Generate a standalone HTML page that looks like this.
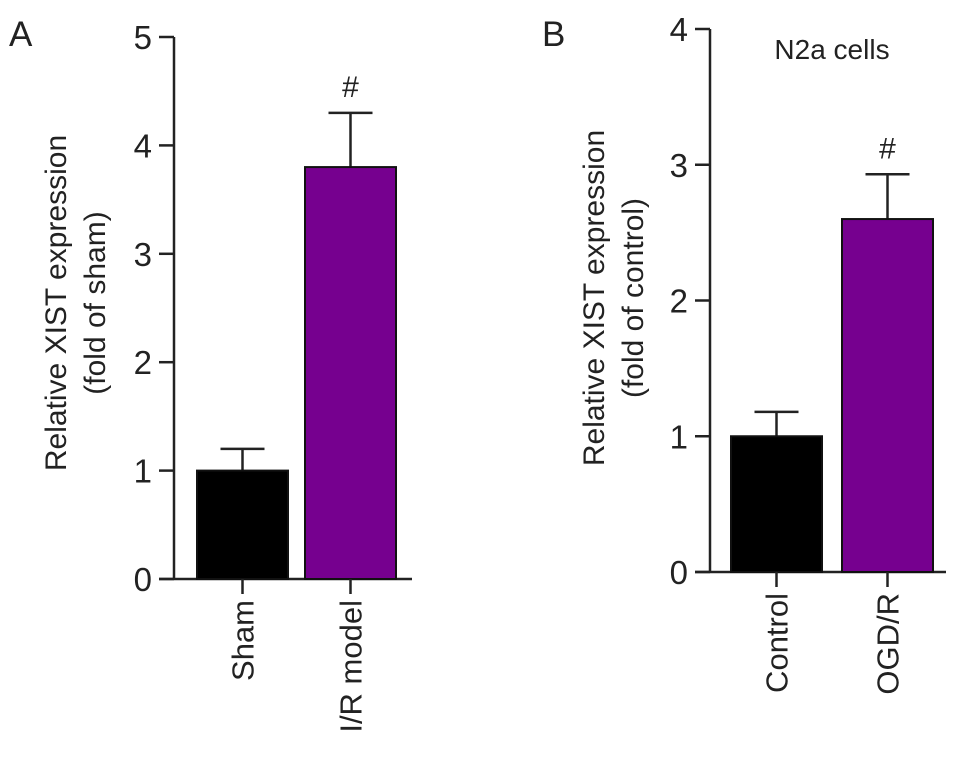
<!DOCTYPE html>
<html><head><meta charset="utf-8"><style>
html,body{margin:0;padding:0;background:#fff}
svg{display:block;font-family:"Liberation Sans",Arial,sans-serif}
</style></head><body>
<svg id="chart" width="969" height="762" viewBox="0 0 969 762"></svg>
<script>
const categoriesA = ["Sham", "I/R model"];
const valuesA = [1.0, 3.8];
const errorsA = [0.2, 0.5];
const ticksA = [0, 1, 2, 3, 4, 5];
const categoriesB = ["Control", "OGD/R"];
const valuesB = [1.0, 2.6];
const errorsB = [0.18, 0.33];
const ticksB = [0, 1, 2, 3, 4];
const colors = ["#000000", "#76008f"];

const svg = document.getElementById('chart');
const NS = 'http://www.w3.org/2000/svg';
function mk(tag, attrs, parent, text) {
  const e = document.createElementNS(NS, tag);
  for (const k in attrs) e.setAttribute(k, attrs[k]);
  if (text !== undefined) e.textContent = text;
  (parent || svg).appendChild(e);
  return e;
}

function panel(o) {
  const g = mk('g', {});
  
  
  const y = v => o.y0 - (v / o.max) * (o.y0 - o.yTop);
  const ax = mk('line', {x1: o.ax, y1: o.yTop, x2: o.ax, y2: o.y0, stroke: '#222', 'stroke-width': 2.5}, g);
  
  
  o.ticks.forEach(t => {
    mk('line', {x1: o.ax - 15, y1: y(t), x2: o.ax, y2: y(t), stroke: '#222', 'stroke-width': 2.5}, g);
    const tl = mk('text', {x: o.ax - 22, y: y(t) + 12, 'font-size': 33, 'text-anchor': 'end', fill: '#222'}, g, t);
    
    
  });
  const xa = mk('line', {x1: o.ax - 15, y1: o.y0, x2: o.xEnd, y2: o.y0, stroke: '#222', 'stroke-width': 2.5}, g);
  
  
  o.cats.forEach((c, i) => {
    const x0 = o.barX[i], cx = x0 + o.bw / 2;
    const top = y(o.vals[i]), et = y(o.vals[i] + o.errs[i]);
    mk('line', {x1: cx, y1: et, x2: cx, y2: top, stroke: '#222', 'stroke-width': 2.5}, g);
    mk('line', {x1: cx - 22, y1: et, x2: cx + 22, y2: et, stroke: '#222', 'stroke-width': 2.5}, g);
    const r = mk('rect', {x: x0, y: top, width: o.bw, height: o.y0 - top, fill: colors[i], stroke: '#111', 'stroke-width': 2}, g);
    
    
    mk('line', {x1: cx, y1: o.y0, x2: cx, y2: o.y0 + 15, stroke: '#222', 'stroke-width': 2.5}, g);
    const xl = mk('text', {x: 0, y: 0, 'font-size': 31, 'text-anchor': 'end', fill: '#222', transform: `translate(${cx + 11},${o.y0 + 21}) rotate(-90)`}, g, c);
    
    
    if (i === 1) {
      const h = mk('text', {x: cx, y: et - 16, 'font-size': 30, 'text-anchor': 'middle', fill: '#222'}, g, '#');
      
      
    }
  });
  const t1 = mk('text', {x: 0, y: 0, 'font-size': 30, 'text-anchor': 'middle', fill: '#222', transform: `translate(${o.titleX},${o.titleY}) rotate(-90)`}, g, 'Relative XIST expression');
  
  
  const t2 = mk('text', {x: 0, y: 0, 'font-size': 30, 'text-anchor': 'middle', fill: '#222', transform: `translate(${o.titleX + 39},${o.titleY}) rotate(-90)`}, g, o.sub);
  
  
  const L = mk('text', {x: o.lx, y: 46, 'font-size': 35, fill: '#222'}, g, o.letter);
  
  
}

panel({name: 'panel-a', letter: 'A', lx: 9, ax: 174, yTop: 37, y0: 579, max: 5, xEnd: 412,
  ticks: ticksA, cats: categoriesA, vals: valuesA, errs: errorsA, barX: [197, 305], bw: 91,
  titleX: 66, titleY: 303, sub: '(fold of sham)'});
panel({name: 'panel-b', letter: 'B', lx: 542, ax: 710, yTop: 29, y0: 572, max: 4, xEnd: 946,
  ticks: ticksB, cats: categoriesB, vals: valuesB, errs: errorsB, barX: [731, 842], bw: 91,
  titleX: 604, titleY: 298, sub: '(fold of control)'});
const n2 = mk('text', {x: 832, y: 59, 'font-size': 28, 'text-anchor': 'middle', fill: '#222'}, svg, 'N2a cells');


</script>
</body></html>
